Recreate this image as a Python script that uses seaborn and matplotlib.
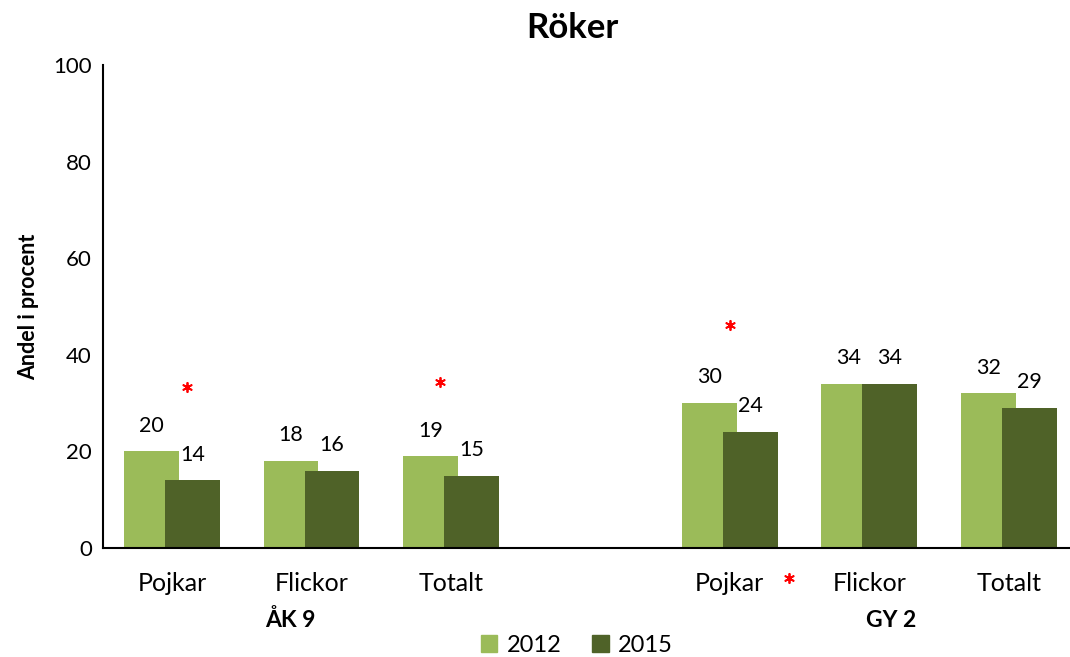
#!/usr/bin/env python3

import numpy as np
import matplotlib
matplotlib.use('Agg')
import matplotlib.pyplot as plt
import matplotlib.patches as mpatches
import seaborn as sns

sns.set_style('white')
plt.rcParams['font.family'] = ['Lato', 'DejaVu Sans']
plt.rcParams['text.color'] = 'black'
plt.rcParams['axes.labelcolor'] = 'black'
plt.rcParams['xtick.color'] = 'black'
plt.rcParams['ytick.color'] = 'black'

# Data
categories = ['Pojkar', 'Flickor', 'Totalt', 'Pojkar', 'Flickor', 'Totalt']
positions = np.array([0, 1, 2, 4, 5, 6])
groups = ['ÅK 9', 'GY 2']
group_pos = [0.846, 5.155]
years = ['2012', '2015']
values_2012 = [20, 18, 19, 30, 34, 32]
values_2015 = [14, 16, 15, 24, 34, 29]
# red asterisks marking significant change (x in slot units, y in percent)
star_x = [0.108, 1.921, 4.0, 4.423]
star_y = [33.3, 34.4, 46.2, -6.2]

light = '#9BBB59'
dark = '#4F6228'
offset = 0.147
bw = 0.394

fig = plt.figure(figsize=(10.7, 6.57), dpi=100)
ax = fig.add_axes([0.0963, 0.1659, 0.9037, 0.7352])

sns.barplot(x=positions - offset, y=values_2012, native_scale=True, width=bw,
            color=light, saturation=1, linewidth=0, ax=ax)
sns.barplot(x=positions + offset, y=values_2015, native_scale=True, width=bw,
            color=dark, saturation=1, linewidth=0, ax=ax)

# value labels
for x, v in zip(positions - offset, values_2012):
    ax.annotate(str(v), (x, v), xytext=(0, 18.5), textcoords='offset points',
                ha='center', va='center', fontsize=15.5)
for x, v in zip(positions + offset, values_2015):
    ax.annotate(str(v), (x, v), xytext=(0, 18.5), textcoords='offset points',
                ha='center', va='center', fontsize=15.5)

ax.scatter(star_x, star_y, marker=(6, 2, 0), s=45, color='red',
           linewidths=1.3, clip_on=False, zorder=5)

ax.set_xlim(-0.495, 6.44)
ax.set_ylim(0, 100)
ax.set_yticks(range(0, 101, 20))
ax.set_xticks(positions)
ax.set_xticklabels(categories, fontsize=18)
ax.tick_params(axis='y', labelsize=16, length=0, pad=8)
ax.tick_params(axis='x', length=0, pad=17)
ax.set_ylabel('Andel i procent', fontsize=15.5, fontweight='bold', labelpad=10)
ax.set_xlabel('')

for name, gx in zip(groups, group_pos):
    ax.text(gx, -15, name, ha='center', va='center', fontsize=16.5,
            fontweight='bold', transform=ax.transData)

for s in ['top', 'right']:
    ax.spines[s].set_visible(False)
for s in ['left', 'bottom']:
    ax.spines[s].set_color('black')
    ax.spines[s].set_linewidth(1.5)

fig.text(0.535, 0.957, 'Röker', ha='center', va='center', fontsize=25,
         fontweight='bold')

handles = [mpatches.Patch(color=light, label=years[0]),
           mpatches.Patch(color=dark, label=years[1])]
fig.legend(handles=handles, loc='center', bbox_to_anchor=(0.539, 0.018),
           ncol=2, frameon=False, fontsize=17, handlelength=0.7,
           handleheight=0.7, handletextpad=0.4, columnspacing=1.3)

fig.savefig('out.png', dpi=100)
